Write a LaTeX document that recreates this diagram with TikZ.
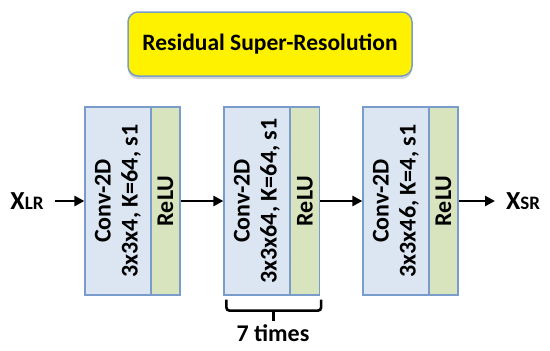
\documentclass[tikz,border=0pt]{standalone}
\usepackage{fontspec}
\setmainfont{Carlito}
\usetikzlibrary{arrows.meta,shadows,calc}
\definecolor{convblue}{HTML}{DCE6F2}
\definecolor{edgeblue}{HTML}{7A9CCB}
\definecolor{relugreen}{HTML}{D7E4BD}

\begin{document}
\begin{tikzpicture}[x=1pt,y=-1pt,
  convbox/.style={draw=edgeblue,line width=1.2pt,fill=convblue,rotate=90,minimum width=188pt,minimum height=66pt,inner sep=0pt,align=center,font=\fontsize{24}{27}\selectfont\bfseries},
  relubox/.style={draw=edgeblue,line width=1.2pt,fill=relugreen,rotate=90,minimum width=188pt,minimum height=29pt,inner sep=0pt,font=\fontsize{24}{27}\selectfont\bfseries},
  io/.style={inner sep=0pt,outer sep=11pt,font=\bfseries},
  flow/.style={line width=2.8pt,-{Triangle[length=10pt,width=10pt]}},
  bracket/.style={line width=2.6pt,rounded corners=3pt}]
\useasboundingbox (0,0) rectangle (550,351);
\node[draw=edgeblue,line width=1.5pt,fill=yellow,rounded corners=10pt,minimum width=284pt,minimum height=64pt,font=\fontsize{23.5}{28}\selectfont\bfseries,drop shadow={shadow xshift=0pt,shadow yshift=-3pt,opacity=0.35}] (title) at (270,44) {Residual Super-Resolution};
% blocks
\node[convbox] (conv1) at (118,201) {Conv-2D\\3x3x4, K=64, s1};
\node[relubox] (relu1) at (165.5,201) {ReLU};
\node[convbox] (conv2) at (257,201) {Conv-2D\\3x3x64, K=64, s1};
\node[relubox] (relu2) at (305,201) {ReLU};
\node[convbox] (conv3) at (396,201) {Conv-2D\\3x3x46, K=4, s1};
\node[relubox] (relu3) at (443.5,201) {ReLU};
% input / output
\node[io] (xlr) at (27,201) {\fontsize{26}{28}\selectfont X\fontsize{19}{20}\selectfont LR};
\node[io] (xsr) at (523,201) {\fontsize{26}{28}\selectfont X\fontsize{19}{20}\selectfont SR};
\draw[flow] (xlr) -- (conv1);
\draw[flow] (relu1) -- (conv2);
\draw[flow] (relu2) -- (conv3);
\draw[flow] (relu3) -- (xsr);
% repeat bracket
\coordinate (bl) at ([shift={(3,4)}]conv2.north west);
\coordinate (br) at ([shift={(1,4)}]relu2.south west);
\draw[bracket] (bl) -- ++(0,11) coordinate (bl2) -- (bl2 -| br) -- (br);
\coordinate (tick) at ($(bl2)!0.5!(bl2 -| br)$);
\draw[line width=2.6pt] (tick) -- ++(0,10);
\node[font=\fontsize{24}{28}\selectfont\bfseries] (times) at (273,333) {7 times};
\end{tikzpicture}
\end{document}
